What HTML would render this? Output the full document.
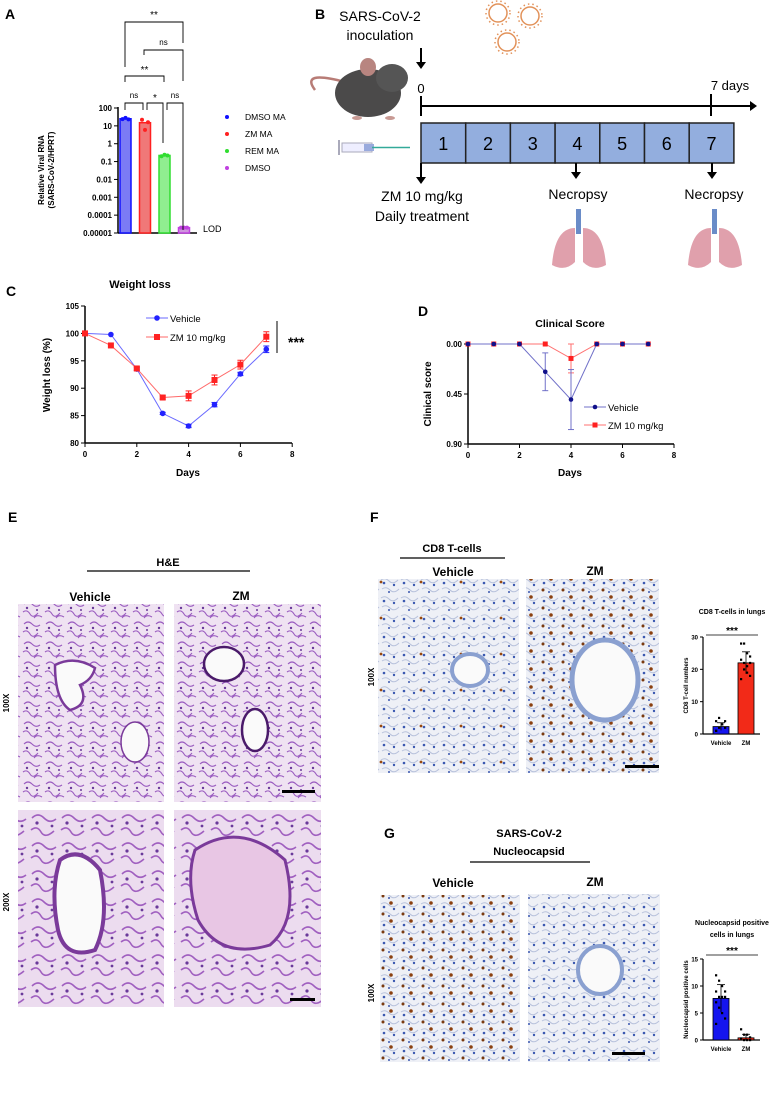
<!DOCTYPE html>
<html><head><meta charset="utf-8"><style>
html,body{margin:0;padding:0;background:#fff}
svg{display:block;font-family:"Liberation Sans",Arial,sans-serif}
.b{font-weight:bold}
</style></head><body>
<svg id="fig" width="780" height="1099" viewBox="0 0 780 1099" xmlns="http://www.w3.org/2000/svg">
<defs>
<pattern id="he" width="22" height="20" patternUnits="userSpaceOnUse">
<rect width="22" height="20" fill="#efe2f2"/>
<path d="M2 4 Q6 0 10 4 T18 5 M1 12 Q5 9 8 14 T16 13 M12 18 Q15 14 20 17" fill="none" stroke="#9a5cc0" stroke-width="1.1"/>
<circle cx="5" cy="8" r="1.2" fill="#6a3a9a"/><circle cx="15" cy="10" r="1" fill="#6a3a9a"/>
</pattern>
<pattern id="he2" width="30" height="28" patternUnits="userSpaceOnUse">
<rect width="30" height="28" fill="#ecdcef"/>
<path d="M2 6 Q8 0 14 6 T26 7 M1 18 Q7 13 11 20 T24 19" fill="none" stroke="#a060c0" stroke-width="1.6"/>
<circle cx="7" cy="11" r="1.6" fill="#6a3a9a"/><circle cx="22" cy="14" r="1.4" fill="#6a3a9a"/>
</pattern>
<pattern id="ihc" width="20" height="18" patternUnits="userSpaceOnUse">
<rect width="20" height="18" fill="#eef0f6"/>
<path d="M1 4 Q5 1 9 5 T18 4 M2 13 Q6 10 10 14 T19 13" fill="none" stroke="#b8c2dc" stroke-width="1"/>
<circle cx="4" cy="7" r="1.3" fill="#3a58b0"/><circle cx="14" cy="9" r="1.2" fill="#3a58b0"/><circle cx="9" cy="16" r="1" fill="#3a58b0"/>
</pattern>
<pattern id="ihcb" width="20" height="18" patternUnits="userSpaceOnUse">
<rect width="20" height="18" fill="url(#ihc)"/>
<circle cx="11" cy="3" r="1.8" fill="#8a4010"/><circle cx="3" cy="14" r="1.5" fill="#7a3a10"/>
</pattern>
<pattern id="ihcs" width="40" height="36" patternUnits="userSpaceOnUse">
<rect width="40" height="36" fill="url(#ihc)"/>
<circle cx="21" cy="6" r="1.4" fill="#9a4a10"/>
</pattern>
</defs>

<!-- panel letters -->
<text x="5" y="19" font-size="14" class="b">A</text>
<text x="315" y="19" font-size="14" class="b">B</text>
<text x="6" y="296" font-size="14" class="b">C</text>
<text x="418" y="316" font-size="14" class="b">D</text>
<text x="8" y="522" font-size="14" class="b">E</text>
<text x="370" y="522" font-size="14" class="b">F</text>
<text x="384" y="838" font-size="14" class="b">G</text>

<g id="panelA"></g>
<g id="panelB">
<text x="380" y="21" font-size="14" text-anchor="middle">SARS-CoV-2</text>
<text x="380" y="40" font-size="14" text-anchor="middle">inoculation</text>
<line x1="421" y1="48" x2="421" y2="64" stroke="#000" stroke-width="2"/><path d="M416 62 L421 69 L426 62 Z" fill="#000"/>
<g fill="none" stroke="#e2925a" stroke-width="1.5">
<circle cx="498" cy="13" r="9"/><circle cx="530" cy="16" r="9"/><circle cx="507" cy="42" r="9"/>
<circle cx="498" cy="13" r="12" stroke-dasharray="1.5 3"/><circle cx="530" cy="16" r="12" stroke-dasharray="1.5 3"/><circle cx="507" cy="42" r="12" stroke-dasharray="1.5 3"/>
</g>
<g>
<path d="M345 82 Q300 70 315 90" fill="none" stroke="#b87c76" stroke-width="2.5"/>
<ellipse cx="368" cy="93" rx="33" ry="24" fill="#4b4a4a"/>
<ellipse cx="392" cy="78" rx="16" ry="14" fill="#555"/>
<ellipse cx="368" cy="67" rx="8" ry="9" fill="#b88580"/>
<ellipse cx="390" cy="118" rx="5" ry="2" fill="#c89a94"/><ellipse cx="357" cy="118" rx="5" ry="2" fill="#c89a94"/>
</g>
<g>
<rect x="342" y="143" width="30" height="9" fill="#eef" stroke="#aab" />
<rect x="364" y="144" width="10" height="7" fill="#9ad" />
<line x1="372" y1="147.5" x2="410" y2="147.5" stroke="#3a9" stroke-width="1.5"/>
<line x1="339" y1="140" x2="339" y2="155" stroke="#aab" stroke-width="2"/>
</g>
<text x="421" y="93" font-size="13" text-anchor="middle">0</text>
<text x="730" y="90" font-size="13" text-anchor="middle">7 days</text>
<line x1="421" y1="106" x2="752" y2="106" stroke="#000" stroke-width="2"/>
<path d="M750 101 L757 106 L750 111 Z" fill="#000"/>
<line x1="421" y1="96" x2="421" y2="116" stroke="#000" stroke-width="2"/>
<line x1="711" y1="94" x2="711" y2="116" stroke="#000" stroke-width="2"/>
<g id="dayBoxes"></g>
<line x1="421" y1="163" x2="421" y2="178" stroke="#000" stroke-width="2"/><path d="M416 177 L421 184 L426 177 Z" fill="#000"/>
<line x1="576" y1="163" x2="576" y2="173" stroke="#000" stroke-width="2"/><path d="M571 172 L576 179 L581 172 Z" fill="#000"/>
<line x1="712" y1="163" x2="712" y2="173" stroke="#000" stroke-width="2"/><path d="M707 172 L712 179 L717 172 Z" fill="#000"/>
<text x="422" y="201" font-size="14" text-anchor="middle">ZM 10 mg/kg</text>
<text x="422" y="221" font-size="14" text-anchor="middle">Daily treatment</text>
<text x="578" y="199" font-size="14" text-anchor="middle">Necropsy</text>
<text x="714" y="199" font-size="14" text-anchor="middle">Necropsy</text>
<g>
<rect x="576" y="209" width="5" height="25" fill="#6a8cc8"/>
<path d="M575 228 Q555 228 552 265 Q565 272 575 262 Z" fill="#e0a0ac"/><path d="M583 228 Q603 228 606 265 Q593 272 583 262 Z" fill="#e0a0ac"/>
</g>
<g>
<rect x="712" y="209" width="5" height="25" fill="#6a8cc8"/>
<path d="M711 228 Q691 228 688 265 Q701 272 711 262 Z" fill="#e0a0ac"/><path d="M719 228 Q739 228 742 265 Q729 272 719 262 Z" fill="#e0a0ac"/>
</g>
</g>

<g id="panelC"></g>
<g id="panelD"></g>

<!-- Panel E -->
<g>
<text x="168" y="566" font-size="11" class="b" text-anchor="middle">H&amp;E</text>
<line x1="87" y1="571" x2="250" y2="571" stroke="#000" stroke-width="1.2"/>
<text x="90" y="601" font-size="12" class="b" text-anchor="middle">Vehicle</text>
<text x="241" y="600" font-size="12" class="b" text-anchor="middle">ZM</text>
<text x="0" y="0" font-size="8" class="b" text-anchor="middle" transform="translate(9,703) rotate(-90)">100X</text>
<text x="0" y="0" font-size="8" class="b" text-anchor="middle" transform="translate(9,902) rotate(-90)">200X</text>
<rect x="18" y="604" width="146" height="198" fill="url(#he)"/>
<rect x="174" y="604" width="147" height="198" fill="url(#he)"/>
<rect x="18" y="810" width="146" height="197" fill="url(#he2)"/>
<rect x="174" y="810" width="147" height="197" fill="url(#he2)"/>
<g fill="#fafafa" stroke="#7a3a9a" stroke-width="2.5">
<path d="M55 665 Q75 655 95 668 Q92 680 80 685 Q90 705 70 710 Q55 700 55 665 Z"/>
<ellipse cx="135" cy="742" rx="14" ry="20" stroke-width="1.5"/>
<ellipse cx="224" cy="664" rx="20" ry="17" stroke="#4a1a6a"/>
<ellipse cx="255" cy="730" rx="13" ry="21" stroke="#4a1a6a"/>
<path d="M60 860 Q80 845 100 870 Q110 920 95 950 Q65 960 58 930 Q50 890 60 860 Z" stroke-width="4"/>
<path d="M195 850 Q240 820 285 860 Q300 920 270 945 Q220 960 198 920 Q185 880 195 850 Z" stroke-width="3" fill="#e8c6e4"/>
</g>
<rect x="282" y="790" width="33" height="3" fill="#000"/>
<rect x="290" y="998" width="25" height="3" fill="#000"/>
</g>

<!-- Panel F -->
<g>
<text x="452" y="552" font-size="11" class="b" text-anchor="middle">CD8 T-cells</text>
<line x1="400" y1="558" x2="505" y2="558" stroke="#000" stroke-width="1.2"/>
<text x="453" y="576" font-size="12" class="b" text-anchor="middle">Vehicle</text>
<text x="595" y="575" font-size="12" class="b" text-anchor="middle">ZM</text>
<text x="0" y="0" font-size="8" class="b" text-anchor="middle" transform="translate(374,677) rotate(-90)">100X</text>
<rect x="378" y="579" width="141" height="194" fill="url(#ihcs)"/>
<rect x="526" y="579" width="133" height="194" fill="url(#ihcb)"/>
<ellipse cx="470" cy="670" rx="18" ry="16" fill="#fafafa" stroke="#8aa0d0" stroke-width="4"/>
<ellipse cx="605" cy="680" rx="33" ry="40" fill="#fafafa" stroke="#8aa0d0" stroke-width="5"/>
<rect x="625" y="765" width="34" height="3" fill="#000"/>
</g>
<g id="panelFbar"></g>

<!-- Panel G -->
<g>
<text x="529" y="837" font-size="11" class="b" text-anchor="middle">SARS-CoV-2</text>
<text x="529" y="855" font-size="11" class="b" text-anchor="middle">Nucleocapsid</text>
<line x1="470" y1="862" x2="590" y2="862" stroke="#000" stroke-width="1.2"/>
<text x="453" y="887" font-size="12" class="b" text-anchor="middle">Vehicle</text>
<text x="595" y="886" font-size="12" class="b" text-anchor="middle">ZM</text>
<text x="0" y="0" font-size="8" class="b" text-anchor="middle" transform="translate(374,993) rotate(-90)">100X</text>
<rect x="380" y="895" width="140" height="167" fill="url(#ihcb)"/>
<rect x="528" y="894" width="132" height="168" fill="url(#ihc)"/>
<ellipse cx="600" cy="970" rx="22" ry="24" fill="#fafafa" stroke="#8aa0d0" stroke-width="4"/>
<rect x="612" y="1052" width="33" height="3" fill="#000"/>
</g>
<g id="panelGbar"></g>
</svg>

<script>
// ---------- DATA ----------
const aGroups = ["DMSO MA","ZM MA","REM MA","DMSO"];
const aMeans = [25, 15, 0.22, 0.00002];
const aPoints = [[24,28,23],[22,6,16],[0.2,0.24,0.22],[0.00002,0.00002,0.00002]];
const aTicks = ["100","10","1","0.1","0.01","0.001","0.0001","0.00001"];
const days = [0,1,2,3,4,5,6,7];
const wVehicle = [100,99.8,93.5,85.4,83.1,87.0,92.6,97.1];
const wVehicleErr = [0,0,0.2,0.2,0.3,0.4,0.3,0.6];
const wZM = [100,97.8,93.6,88.3,88.6,91.5,94.3,99.4];
const wZMErr = [0,0,0.3,0.3,0.9,0.9,0.8,0.9];
const wTicks = [80,85,90,95,100,105];
const xTicks = [0,2,4,6,8];
const cVehicle = [0,0,0,0.25,0.50,0,0,0];
const cVehicleErr = [0,0,0,0.17,0.27,0,0,0];
const cZM = [0,0,0,0,0.13,0,0,0];
const cZMErr = [0,0,0,0,0.13,0,0,0];
const cTicks = [0,0.45,0.90];
const fGroups = ["Vehicle","ZM"];
const fMeans = [2.3,22];
const fPointsVeh = [1,2,3,2,4,5,3,2,1,2,3,4];
const fPointsZM = [28,28,25,22,23,20,19,18,17,22,21,24];
const fTicks = [0,10,20,30];
const gMeans = [7.7,0.4];
const gPointsVeh = [12,11,10,9,9,8,8,8,7,6,5,4,3];
const gPointsZM = [2,1,1,0.5,0.3,0,0,0];
const gTicks = [0,5,10,15];

const NS="http://www.w3.org/2000/svg";
function el(parent,tag,attrs,text){const e=document.createElementNS(NS,tag);for(const k in attrs)e.setAttribute(k,attrs[k]);if(text!==undefined)e.textContent=text;parent.appendChild(e);return e;}

// ---------- Panel A ----------
(function(){
const g=document.getElementById('panelA');
const yA=v=>108+(2-Math.log10(v))*17.857;
const cx=[125.5,145,164.5,184];
const fills=["#7b7bf5","#f07878","#90ee90","#cf95de"], strokes=["#1010ff","#ff2020","#30dd30","#c040e0"];
el(g,'line',{x1:118,y1:107,x2:118,y2:233,stroke:'#000','stroke-width':1.5});
el(g,'line',{x1:118,y1:233,x2:197,y2:233,stroke:'#000','stroke-width':1.5});
aTicks.forEach((t,i)=>{const y=108+i*17.857;
 el(g,'line',{x1:114,y1:y,x2:118,y2:y,stroke:'#000'});
 const tx=el(g,'text',{x:112,y:y+3,'font-size':8,'font-weight':'bold','text-anchor':'end'},t);
 
 });
const yl=el(g,'text',{transform:'translate(44,170) rotate(-90)','font-size':8,'font-weight':'bold','text-anchor':'middle'},'Relative Viral RNA');


el(g,'text',{transform:'translate(54,170) rotate(-90)','font-size':8,'font-weight':'bold','text-anchor':'middle'},'(SARS-CoV-2/HPRT)');
aMeans.forEach((m,i)=>{const y=yA(m);
 const b=el(g,'rect',{x:cx[i]-5.5,y:y,width:11,height:233-y,fill:fills[i],stroke:strokes[i],'stroke-width':1.5});
 
 
 aPoints[i].forEach((p,j)=>{el(g,'circle',{cx:cx[i]-3+j*3,cy:yA(p),r:2,fill:strokes[i]});});
});
el(g,'text',{x:203,y:232,'font-size':9},'LOD');
aGroups.forEach((n,i)=>{const y=117+i*17;
 el(g,'circle',{cx:227,cy:y,r:2,fill:strokes[i]});
 const t=el(g,'text',{x:245,y:y+3,'font-size':8.5},n);
 
 });
const br=(x1,x2,y,l1,l2,lab,ly)=>{el(g,'path',{d:`M${x1} ${l1} L${x1} ${y} L${x2} ${y} L${x2} ${l2}`,fill:'none',stroke:'#000','stroke-width':0.9});el(g,'text',{x:(x1+x2)/2,y:ly,'font-size':lab=='ns'?8:10,'text-anchor':'middle'},lab);};
br(125,143,103,110,110,'ns',98);
br(147,163,103,110,143,'*',101);
br(167,183,103,110,230,'ns',98);
br(125,164,76,82,82,'**',73);
br(144,183,50,55,81,'ns',45);
br(125,183,22,67,43,'**',18);
})();

// ---------- Day boxes ----------
(function(){const g=document.getElementById('dayBoxes');
for(let i=0;i<7;i++){const x=421+i*44.7;
 const r=el(g,'rect',{x:x,y:123,width:44.7,height:40,fill:'#93aede',stroke:'#222','stroke-width':1.5});
 
 
 el(g,'text',{x:x+22.3,y:150,'font-size':18,'text-anchor':'middle'},String(i+1));}
})();

// ---------- Panel C ----------
(function(){const g=document.getElementById('panelC');
const X=d=>85+d*25.9, Y=v=>306+(105-v)*5.48;
el(g,'text',{x:140,y:288,'font-size':11,'font-weight':'bold','text-anchor':'middle'},'Weight loss');
el(g,'line',{x1:85,y1:306,x2:85,y2:443,stroke:'#000','stroke-width':1.5});
el(g,'line',{x1:85,y1:443,x2:292,y2:443,stroke:'#000','stroke-width':1.5});
wTicks.forEach(t=>{el(g,'line',{x1:81,y1:Y(t),x2:85,y2:Y(t),stroke:'#000'});el(g,'text',{x:79,y:Y(t)+3,'font-size':8,'font-weight':'bold','text-anchor':'end'},String(t));});
xTicks.forEach(t=>{el(g,'line',{x1:X(t),y1:443,x2:X(t),y2:447,stroke:'#000'});el(g,'text',{x:X(t),y:457,'font-size':8,'font-weight':'bold','text-anchor':'middle'},String(t));});
el(g,'text',{x:188,y:476,'font-size':10,'font-weight':'bold','text-anchor':'middle'},'Days');
el(g,'text',{transform:'translate(50,375) rotate(-90)','font-size':10,'font-weight':'bold','text-anchor':'middle'},'Weight loss (%)');
const series=[[wVehicle,wVehicleErr,'#2222ff','#6a6aff','c'],[wZM,wZMErr,'#ff2222','#ff6a6a','s']];
series.forEach(([vals,err,col,lc,shape],si)=>{
 const pl=el(g,'polyline',{points:days.map((d,i)=>X(d)+','+Y(vals[i])).join(' '),fill:'none',stroke:lc,'stroke-width':1});
 
 
 days.forEach((d,i)=>{ if(err[i]>0){el(g,'line',{x1:X(d),y1:Y(vals[i]-err[i]),x2:X(d),y2:Y(vals[i]+err[i]),stroke:col});
   el(g,'line',{x1:X(d)-3,y1:Y(vals[i]+err[i]),x2:X(d)+3,y2:Y(vals[i]+err[i]),stroke:col});el(g,'line',{x1:X(d)-3,y1:Y(vals[i]-err[i]),x2:X(d)+3,y2:Y(vals[i]-err[i]),stroke:col});}
  if(shape=='c')el(g,'circle',{cx:X(d),cy:Y(vals[i]),r:2.8,fill:col});else el(g,'rect',{x:X(d)-3,y:Y(vals[i])-3,width:6,height:6,fill:col});});
});
el(g,'line',{x1:146,y1:318,x2:168,y2:318,stroke:'#6a6aff'});el(g,'circle',{cx:157,cy:318,r:2.8,fill:'#2222ff'});
el(g,'text',{x:170,y:322,'font-size':9.5},'Vehicle');
el(g,'line',{x1:146,y1:337,x2:168,y2:337,stroke:'#ff6a6a'});el(g,'rect',{x:154,y:334,width:6,height:6,fill:'#ff2222'});
el(g,'text',{x:170,y:341,'font-size':9.5},'ZM 10 mg/kg');
el(g,'line',{x1:277,y1:321,x2:277,y2:353,stroke:'#000'});
el(g,'text',{x:288,y:347,'font-size':14,'font-weight':'bold'},'***');
})();

// ---------- Panel D ----------
(function(){const g=document.getElementById('panelD');
const X=d=>468+d*25.75, Y=v=>344+v*(100/0.9);
el(g,'text',{x:570,y:327,'font-size':10.5,'font-weight':'bold','text-anchor':'middle'},'Clinical Score');
el(g,'line',{x1:468,y1:344,x2:468,y2:444,stroke:'#000','stroke-width':1.5});
el(g,'line',{x1:468,y1:444,x2:674,y2:444,stroke:'#000','stroke-width':1.5});
cTicks.forEach(t=>{el(g,'line',{x1:464,y1:Y(t),x2:468,y2:Y(t),stroke:'#000'});el(g,'text',{x:462,y:Y(t)+3,'font-size':8,'font-weight':'bold','text-anchor':'end'},t.toFixed(2));});
xTicks.forEach(t=>{el(g,'line',{x1:X(t),y1:444,x2:X(t),y2:448,stroke:'#000'});el(g,'text',{x:X(t),y:458,'font-size':8,'font-weight':'bold','text-anchor':'middle'},String(t));});
el(g,'text',{x:570,y:476,'font-size':10,'font-weight':'bold','text-anchor':'middle'},'Days');
el(g,'text',{transform:'translate(431,394) rotate(-90)','font-size':10,'font-weight':'bold','text-anchor':'middle'},'Clinical score');
const series=[[cZM,cZMErr,'#ff2020','#ff7070','s'],[cVehicle,cVehicleErr,'#10108a','#7070c8','c']];
series.forEach(([vals,err,col,lc,shape],si)=>{
 const pl=el(g,'polyline',{points:days.map((d,i)=>X(d)+','+Y(vals[i])).join(' '),fill:'none',stroke:lc,'stroke-width':1});
 
 
 days.forEach((d,i)=>{ if(err[i]>0){el(g,'line',{x1:X(d),y1:Y(vals[i]-err[i]),x2:X(d),y2:Y(vals[i]+err[i]),stroke:lc});
   el(g,'line',{x1:X(d)-3,y1:Y(vals[i]+err[i]),x2:X(d)+3,y2:Y(vals[i]+err[i]),stroke:lc});el(g,'line',{x1:X(d)-3,y1:Y(vals[i]-err[i]),x2:X(d)+3,y2:Y(vals[i]-err[i]),stroke:lc});}
  if(shape=='c')el(g,'circle',{cx:X(d),cy:Y(vals[i]),r:2.3,fill:col});else el(g,'rect',{x:X(d)-2.5,y:Y(vals[i])-2.5,width:5,height:5,fill:col});});
});
el(g,'line',{x1:584,y1:407,x2:606,y2:407,stroke:'#7070c8'});el(g,'circle',{cx:595,cy:407,r:2.3,fill:'#10108a'});
el(g,'text',{x:608,y:411,'font-size':9.5},'Vehicle');
el(g,'line',{x1:584,y1:425,x2:606,y2:425,stroke:'#ff7070'});el(g,'rect',{x:592.5,y:422.5,width:5,height:5,fill:'#ff2020'});
el(g,'text',{x:608,y:429,'font-size':9.5},'ZM 10 mg/kg');
})();

// ---------- Bar charts F/G ----------
function barChart(gid,means,pv,pz,ticks,yTop,yBot,vmax,titles,ytitle,sigY){
 const g=document.getElementById(gid);
 const Y=v=>yBot-v*(yBot-yTop)/vmax;
 const cx=[721,746], cols=['#1515ee','#f22a18'];
 titles.forEach((t,i)=>el(g,'text',{x:732,y:titles.length==1?614:925+i*12,'font-size':7,'font-weight':'bold','text-anchor':'middle'},t));
 el(g,'line',{x1:703,y1:yTop,x2:703,y2:yBot,stroke:'#000','stroke-width':1.2});
 el(g,'line',{x1:703,y1:yBot,x2:760,y2:yBot,stroke:'#000','stroke-width':1.2});
 ticks.forEach(t=>{el(g,'line',{x1:700,y1:Y(t),x2:703,y2:Y(t),stroke:'#000'});el(g,'text',{x:698,y:Y(t)+2.5,'font-size':6,'font-weight':'bold','text-anchor':'end'},String(t));});
 el(g,'text',{transform:`translate(688,${(yTop+yBot)/2}) rotate(-90)`,'font-size':6,'font-weight':'bold','text-anchor':'middle'},ytitle);
 ['Vehicle','ZM'].forEach((n,i)=>el(g,'text',{x:cx[i],y:yBot+11,'font-size':6,'font-weight':'bold','text-anchor':'middle'},n));
 means.forEach((m,i)=>{
  const b=el(g,'rect',{x:cx[i]-8,y:Y(m),width:16,height:yBot-Y(m),fill:cols[i],stroke:'#000','stroke-width':0.8});
  
  
  const pts=i?pz:pv;
  pts.forEach((p,j)=>el(g,'rect',{x:cx[i]-5+(j%4)*3-1,y:Y(p)-1,width:2.2,height:2.2,fill:'#000'}));
  const mean=pts.reduce((a,b)=>a+b,0)/pts.length;
  const sd=Math.sqrt(pts.reduce((a,b)=>a+(b-mean)**2,0)/pts.length);
  el(g,'line',{x1:cx[i],y1:Y(m+sd),x2:cx[i],y2:Y(Math.max(0,m-sd)),stroke:'#000','stroke-width':0.8});
  el(g,'line',{x1:cx[i]-4,y1:Y(m+sd),x2:cx[i]+4,y2:Y(m+sd),stroke:'#000','stroke-width':0.8});
 });
 el(g,'line',{x1:706,y1:sigY,x2:758,y2:sigY,stroke:'#000','stroke-width':0.8});
 el(g,'text',{x:732,y:sigY-1,'font-size':10,'font-weight':'bold','text-anchor':'middle'},'***');
}
barChart('panelFbar',fMeans,fPointsVeh,fPointsZM,fTicks,637,734,30,['CD8 T-cells in lungs'],'CD8 T-cell numbers',635);
barChart('panelGbar',gMeans,gPointsVeh,gPointsZM,gTicks,959,1040,15,['Nucleocapsid positive','cells in lungs'],'Nucleocapsid positive cells',955);
</script>
</body></html>
